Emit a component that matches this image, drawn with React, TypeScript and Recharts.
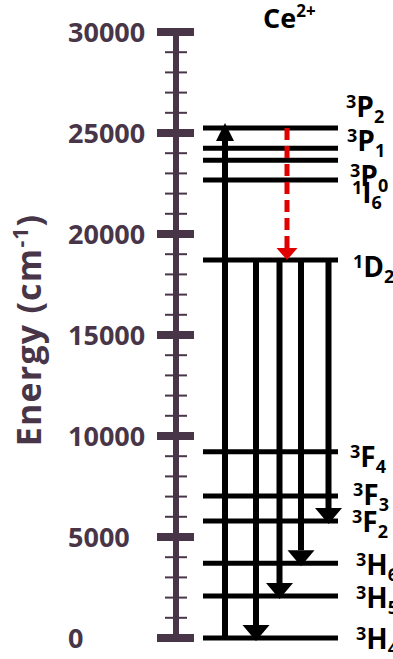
import { ComposedChart, XAxis, YAxis, ReferenceLine, Scatter, Customized } from 'recharts';

// energy levels of Ce2+ (cm-1)
const levelNames = ['3H4', '3H5', '3H6', '3F2', '3F3', '3F4', '1D2', '1I6', '3P0', '3P1', '3P2'];
const levelEnergies = [0, 2080, 3700, 5790, 7030, 9220, 18710, 22670, 23650, 24240, 25250];

// transitions between levels
const pump = { from: '3H4', to: '3P2' };
const relax = { from: '3P2', to: '1D2' };
const emissionFrom = ['1D2', '1D2', '1D2', '1D2'];
const emissionTo = ['3H4', '3H5', '3H6', '3F2'];

const energyTicks = [
  0, 1000, 2000, 3000, 4000, 5000, 6000, 7000, 8000, 9000, 10000,
  11000, 12000, 13000, 14000, 15000, 16000, 17000, 18000, 19000, 20000,
  21000, 22000, 23000, 24000, 25000, 26000, 27000, 28000, 29000, 30000,
];

// layout only
const W = 393;
const H = 659;
const AXIS_X = 176;
const AXIS_COLOR = '#483648';
const FONT = '"Open Sans", sans-serif';
const LEVEL_X = [27, 162];
const PUMP_X = 49;
const RELAX_X = 111;
const EMISSION_X = [80, 103.5, 125, 152.5];
// label nudges (dx from level end, dy of letter centre from level)
const LABEL_DX = [18, 18, 18, 14, 15, 12, 15, 14, 12, 9, 8];
const LABEL_DY = [1, 2, 2, 1, -1, 5, 7, 13, 16, -7, -21];

const energyOf = (name: string) => levelEnergies[levelNames.indexOf(name)];

const levelData = levelEnergies.map((e, i) => ({ name: levelNames[i], x: LEVEL_X[0], e }));

function EnergyTick(props: any) {
  const { y, payload } = props;
  const major = payload.value % 5000 === 0;
  return (
    <g>
      {major ? (
        <rect x={AXIS_X - 19} y={y - 4} width={37} height={8} fill={AXIS_COLOR} />
      ) : (
        <line x1={AXIS_X - 11} x2={AXIS_X + 11} y1={y} y2={y} stroke={AXIS_COLOR} strokeWidth={2} />
      )}
      {major && (
        <text x={68} y={y} dy="0.36em" fill={AXIS_COLOR} fontFamily={FONT} fontWeight={700} fontSize={27}>
          {payload.value}
        </text>
      )}
    </g>
  );
}

function AxisTitle(props: any) {
  const vb = props.viewBox || { y: 32, height: 606 };
  const cy = vb.y + vb.height / 2 - 5;
  return (
    <text
      x={41}
      y={cy}
      transform={`rotate(-90, 41, ${cy})`}
      textAnchor="middle"
      fill={AXIS_COLOR}
      fontFamily={FONT}
      fontWeight={700}
      fontSize={34}
      letterSpacing={1.2}
    >
      Energy (cm<tspan fontSize={21} dy={-13}>-1</tspan>
      <tspan dy={13}>)</tspan>
    </text>
  );
}

function Title() {
  return (
    <text x={263} y={28} fill="#000" fontFamily={FONT} fontWeight={700} fontSize={27}>
      Ce<tspan fontSize={17} dy={-11}>2+</tspan>
    </text>
  );
}

function levelShape(i: number) {
  const name = levelNames[i];
  return (p: any) => {
    const cy = p.y1 + LABEL_DY[i];
    const base = cy + 10;
    return (
      <g>
        <line x1={p.x1} x2={p.x2} y1={p.y1} y2={p.y2} stroke="#000" strokeWidth={5} />
        <text x={p.x2 + LABEL_DX[i]} y={base} fill="#000" fontFamily={FONT} fontWeight={700} fontSize={28}>
          <tspan fontSize={18} dy={-9}>{name[0]}</tspan>
          <tspan dy={9}>{name[1]}</tspan>
          <tspan fontSize={18} dy={6}>{name[2]}</tspan>
        </text>
      </g>
    );
  };
}

function arrowShape(headW: number, headH: number, tipShift: number, color: string, width: number, dash?: string) {
  return (p: any) => {
    const dir = p.y2 > p.y1 ? 1 : -1;
    const tip = p.y2 + dir * tipShift;
    const baseY = tip - dir * headH;
    return (
      <g>
        <line x1={p.x1} x2={p.x1} y1={p.y1} y2={baseY} stroke={color} strokeWidth={width} strokeDasharray={dash} />
        <polygon
          points={`${p.x1 - headW / 2},${baseY} ${p.x1 + headW / 2},${baseY} ${p.x1},${tip}`}
          fill={color}
        />
      </g>
    );
  };
}

export default function App() {
  return (
    <div style={{ position: 'absolute', left: 0, top: 0, width: W, height: H, background: '#fff' }}>
      <ComposedChart width={W} height={H} data={levelData} margin={{ top: 32, right: 0, bottom: 21, left: 0 }}>
        <XAxis type="number" dataKey="x" domain={[0, W - AXIS_X]} allowDataOverflow hide />
        <YAxis
          type="number"
          dataKey="e"
          domain={[0, 30000]}
          allowDataOverflow
          ticks={energyTicks}
          interval={0}
          width={AXIS_X}
          tickLine={false}
          axisLine={{ stroke: AXIS_COLOR, strokeWidth: 6 }}
          tick={<EnergyTick />}
          label={{ content: <AxisTitle /> }}
        />
        <Scatter dataKey="e" fill="none" shape={() => <g />} isAnimationActive={false} />
        {levelEnergies.map((e, i) => (
          <ReferenceLine
            key={levelNames[i]}
            ifOverflow="visible"
            segment={[{ x: LEVEL_X[0], y: e }, { x: LEVEL_X[1], y: e }]}
            shape={levelShape(i)}
          />
        ))}
        <ReferenceLine
          ifOverflow="visible"
          segment={[{ x: PUMP_X, y: energyOf(pump.from) }, { x: PUMP_X, y: energyOf(pump.to) }]}
          shape={arrowShape(18, 18, 5, '#000', 6)}
        />
        {emissionFrom.map((f, i) => (
          <ReferenceLine
            key={emissionTo[i]}
            ifOverflow="visible"
            segment={[{ x: EMISSION_X[i], y: energyOf(f) }, { x: EMISSION_X[i], y: energyOf(emissionTo[i]) }]}
            shape={arrowShape(27, 16, 3, '#000', 6)}
          />
        ))}
        <ReferenceLine
          ifOverflow="visible"
          segment={[{ x: RELAX_X, y: energyOf(relax.from) }, { x: RELAX_X, y: energyOf(relax.to) }]}
          shape={arrowShape(21, 12, 0, '#e00000', 5, '12 6')}
        />
        <Customized component={Title} />
      </ComposedChart>
    </div>
  );
}
